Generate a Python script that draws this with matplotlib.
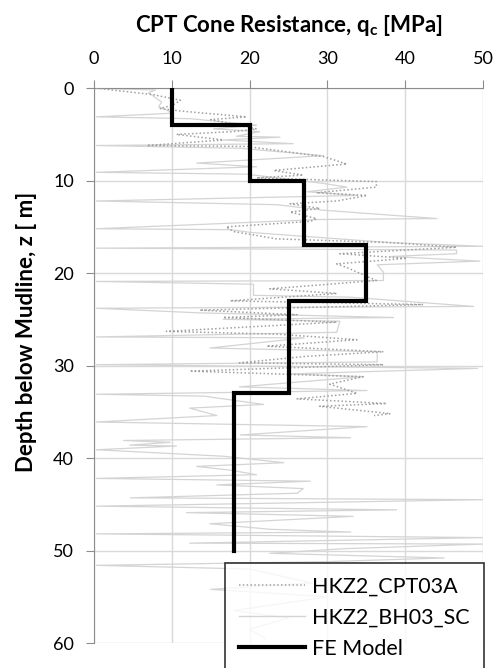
import matplotlib
matplotlib.use("Agg")
import matplotlib.pyplot as plt
from matplotlib.lines import Line2D

plt.rcParams['font.family'] = ['Lato', 'DejaVu Sans']

# FE model step profile
fe_depth = [0, 4, 4, 10, 10, 17, 17, 23, 23, 33, 33, 50]
fe_qc = [10, 10, 20, 20, 27, 27, 35, 35, 25, 25, 18, 18]

# HKZ2_CPT03A (dotted)
cpt_depth = [0.0, 0.7, 1.3, 1.8, 2.2, 2.5, 3.1, 3.4, 4.4, 4.7, 5.0, 5.6, 6.2, 6.3, 7.4,
             8.2, 8.9, 9.4, 9.7, 10.1, 10.7, 11.3, 11.6, 12.2, 12.5, 13.0, 13.4, 14.1,
             14.4, 15.0, 15.5, 16.3, 16.7, 17.2, 17.9, 18.4, 19.0, 19.4, 20.8, 21.7,
             22.2, 23.0, 23.4, 24.0, 24.5, 24.8, 25.3, 26.3, 26.6, 27.2, 27.9, 28.5,
             29.0, 29.7, 29.9, 30.6, 31.2, 32.0, 33.0, 33.6, 34.1, 34.4, 35.2, 35.4]
cpt_qc = [0.3, 7.6, 11.1, 10.2, 8.5, 11.5, 19.6, 15.0, 20.9, 17.9, 10.6, 16.6, 6.8, 19.6, 29.5,
          32.5, 23.1, 26.9, 20.9, 36.3, 36.3, 28.6, 35.1, 31.2, 25.2, 29.0, 25.2, 28.6,
          27.8, 17.0, 17.9, 23.5, 38.1, 46.6, 31.6, 40.2, 31.2, 32.5, 36.3, 22.6,
          31.2, 17.5, 42.3, 13.6, 26.1, 16.6, 31.2, 9.3, 23.5, 33.8, 22.2, 37.2,
          27.3, 18.7, 37.2, 12.3, 34.6, 30.3, 33.8, 26.1, 37.6, 29.0, 38.1, 36.0]

# HKZ2_BH03_SC (thin solid)
bh_depth = [0.0, 0.2, 0.5, 1.5, 2.0, 2.7, 3.1, 3.3, 4.0, 4.4, 4.7, 5.2, 5.3, 5.6, 6.0, 6.2,
            6.5, 7.3, 8.1, 8.5, 9.1, 9.3, 10.3, 10.7, 11.2, 11.6, 12.2, 12.6, 13.2, 14.1,
            14.2, 15.2, 15.3, 15.6, 16.7, 17.1, 17.3, 17.5, 17.9, 18.2, 18.7, 19.1, 19.9,
            20.8, 20.9, 21.2, 22.4, 22.6, 23.6, 23.8, 24.3, 24.8, 25.0, 25.2, 26.4, 26.9,
            27.0, 28.1, 28.5, 29.6, 29.9, 30.3, 30.9, 31.2, 32.3, 32.7, 33.1, 33.3, 34.2,
            34.6, 35.4, 36.1, 36.6, 37.5, 37.8, 38.1, 38.3, 38.6, 38.7, 39.1, 39.8, 40.5,
            40.9, 41.3, 41.8, 42.2, 42.5, 42.9, 43.3, 43.8, 44.3, 44.5, 45.2, 45.6, 45.9,
            46.3, 47.1, 47.7, 48.0, 48.2, 48.6, 49.2, 49.3, 49.8, 50.3, 50.8, 51.2, 51.6,
            52.0, 53.5, 54.2, 55.0, 56.5, 57.3, 58.5, 59.5]
bh_qc = [0.0, 7.9, 7.0, 8.7, 8.3, 10.2, 0.3, 12.4, 20.9, 15.4, 21.3, 18.3, 23.9, 16.6, 25.6, 0.3,
         18.8, 29.5, 13.2, 20.9, 0.3, 19.6, 29.5, 32.5, 27.4, 33.8, 0.3, 23.5, 29.5, 44.1,
         29.0, 0.3, 17.5, 20.1, 38.1, 50.0, 0.3, 46.6, 46.6, 38.1, 49.6, 36.4, 37.2,
         37.2, 0.3, 20.5, 20.5, 32.9, 48.8, 0.3, 13.6, 38.5, 16.6, 31.6, 31.2, 0.3,
         27.0, 14.9, 36.4, 36.4, 0.3, 49.3, 25.2, 34.6, 18.7, 35.1, 0.3, 14.1, 21.8,
         12.3, 15.8, 0.3, 35.1, 18.8, 33.0, 3.8, 9.8, 4.6, 10.6, 0.3, 16.6, 24.4,
         13.2, 17.5, 20.9, 0.3, 27.8, 15.8, 26.9, 26.1, 4.7, 50.0, 0.3, 38.9, 11.9,
         33.3, 14.9, 22.6, 33.0, 0.3, 50.0, 12.3, 50.0, 32.1, 22.6, 45.0, 30.0, 0.3,
         20.0, 28.0, 15.0, 30.0, 18.0, 25.0, 20.0, 22.0]

fig = plt.figure(figsize=(5.0, 6.68), dpi=100)
ax = fig.add_axes([0.188, 0.0374, 0.778, 0.8306])

ax.plot(cpt_qc, cpt_depth, linestyle=(0, (1, 1.5)), color='#a0a0a0', lw=1.1, zorder=3)
ax.plot(bh_qc, bh_depth, '-', color='#d4d4d4', lw=0.9, zorder=2)
ax.plot(fe_qc, fe_depth, '-', color='black', lw=3, solid_joinstyle='miter', zorder=4)

ax.set_xlim(0, 50)
ax.set_ylim(60, 0)
ax.set_xticks([0, 10, 20, 30, 40, 50])
ax.set_yticks([0, 10, 20, 30, 40, 50, 60])
ax.xaxis.tick_top()
ax.grid(True, color='#d9d9d9', lw=1)
ax.set_axisbelow(True)
for s in ['right', 'bottom']:
    ax.spines[s].set_visible(False)
for s in ['left', 'top']:
    ax.spines[s].set_color('#8c8c8c')
ax.tick_params(axis='both', colors='#8c8c8c', labelcolor='black', labelsize=13,
               length=5.5, direction='out')
ax.tick_params(axis='x', pad=10)
ax.tick_params(axis='y', pad=9)

fig.text(0.577, 1 - 32 / 668, r'CPT Cone Resistance, q$_\mathregular{c}$ [MPa]',
         fontsize=16, fontweight='bold', ha='center', va='baseline')
ax.set_ylabel('Depth below Mudline, z [ m]', fontsize=16, fontweight='bold')
ax.yaxis.set_label_coords(-0.147, 0.56)

handles = [Line2D([], [], linestyle=(0, (1, 1.5)), color='#a0a0a0', lw=1.1),
           Line2D([], [], color='#d4d4d4', lw=1),
           Line2D([], [], color='black', lw=3)]
labels = ['HKZ2_CPT03A', 'HKZ2_BH03_SC', 'FE Model']
leg = fig.legend(handles, labels, loc='upper right', bbox_to_anchor=(0.967, 1 - 563 / 668),
                 fontsize=15.5, frameon=True, fancybox=False, edgecolor='black',
                 handlelength=3.1, borderpad=0.65, labelspacing=0.5, handletextpad=0.3,
                 borderaxespad=0)
leg.get_frame().set_linewidth(1.2)

fig.savefig('out.png', dpi=100)
